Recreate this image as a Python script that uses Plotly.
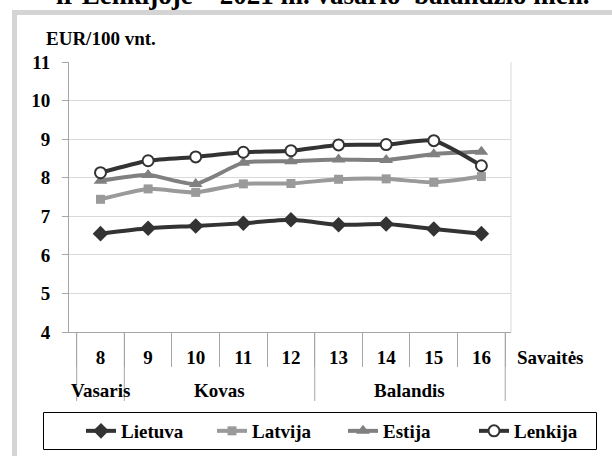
import plotly.graph_objects as go

weeks = ["8", "9", "10", "11", "12", "13", "14", "15", "16"]
months = ["Vasaris", "Kovas", "Kovas", "Kovas", "Kovas",
          "Balandis", "Balandis", "Balandis", "Balandis"]

lietuva = [6.55, 6.69, 6.75, 6.82, 6.91, 6.78, 6.80, 6.67, 6.55]
latvija = [7.44, 7.71, 7.62, 7.84, 7.85, 7.96, 7.97, 7.88, 8.03]
estija = [7.92, 8.07, 7.84, 8.39, 8.43, 8.47, 8.46, 8.61, 8.67]
lenkija = [8.13, 8.44, 8.54, 8.66, 8.70, 8.85, 8.86, 8.96, 8.31]

y_ticks = [4, 5, 6, 7, 8, 9, 10, 11]

W, H = 612, 456
L, R, T, B = 69, 101, 62, 124
PW, PH = W - L - R, H - T - B


def px_x(x):
    return (x - L) / PW


def px_y(y):
    return (H - B - y) / PH


FONT = "Liberation Serif, Times New Roman, serif"
BF = dict(family=FONT, size=19, color="black", weight="bold")
fig = go.Figure()

series = [
    ("Lietuva", lietuva, "#333333", dict(symbol="diamond", size=12, color="#333333")),
    ("Latvija", latvija, "#9a9a9a", dict(symbol="square", size=9, color="#9a9a9a")),
    ("Estija", estija, "#808080", dict(symbol="triangle-up", size=12, color="#808080")),
    ("Lenkija", lenkija, "#333333", dict(symbol="circle", size=11, color="white",
                                         line=dict(color="#333333", width=2))),
]
for name, vals, col, mk in series:
    fig.add_trace(go.Scatter(
        x=weeks, y=vals, name=name, mode="lines+markers",
        line=dict(color=col, width=4, shape="spline", smoothing=0.6),
        marker=mk,
    ))

# month groups derived from the months list
groups = []
for i, m in enumerate(months):
    if groups and groups[-1][0] == m:
        groups[-1][2] = i
    else:
        groups.append([m, i, i])

shapes = [
    dict(type="rect", xref="paper", yref="paper",
         x0=px_x(14.5), x1=px_x(650), y0=px_y(12.5), y1=px_y(500),
         line=dict(color="#d4d4d4", width=5), layer="below"),
    dict(type="rect", xref="paper", yref="paper",
         x0=px_x(43.5), x1=px_x(596.5), y0=px_y(412.5), y1=px_y(449.5),
         line=dict(color="black", width=1), fillcolor="white", layer="below"),
    dict(type="line", xref="paper", yref="paper", x0=1, x1=1, y0=0, y1=1,
         line=dict(color="#d9d9d9", width=1)),
]
annotations = []
bounds = [groups[0][1] - 0.5] + [g[2] + 0.5 for g in groups]
for b in bounds:
    shapes.append(dict(type="line", xref="x", yref="paper", x0=b, x1=b,
                       y0=0, y1=px_y(401), line=dict(color="#a6a6a6", width=1)))
for name, a, b in groups:
    annotations.append(dict(text=name, xref="x", yref="paper", x=(a + b) / 2, y=px_y(390),
                            xanchor="center", yanchor="middle", showarrow=False, font=BF))

annotations += [
    dict(text="EUR/100 vnt.", xref="paper", yref="paper", x=px_x(44), y=px_y(38),
         xanchor="left", yanchor="middle", showarrow=False, font=BF),
    dict(text="Savaitės", xref="paper", yref="paper", x=px_x(515), y=px_y(357),
         xanchor="left", yanchor="middle", showarrow=False, font=BF),
    dict(text="ir Lenkijoje – 2021 m. vasario–balandžio mėn.", xref="paper", yref="paper",
         x=px_x(323), y=px_y(12), xanchor="center", yanchor="bottom", showarrow=False,
         font=dict(family=FONT, size=27, color="black", weight="bold")),
]

fig.update_layout(
    width=W, height=H,
    margin=dict(l=L, r=R, t=T, b=B, autoexpand=False),
    paper_bgcolor="white", plot_bgcolor="white",
    font=BF,
    showlegend=True,
    legend=dict(
        orientation="h", x=px_x(605), y=px_y(431), xanchor="right", yanchor="middle",
        borderwidth=0, bgcolor="rgba(0,0,0,0)",
        font=BF, entrywidth=86, entrywidthmode="pixels",
    ),
    xaxis=dict(
        type="category", showgrid=False, showline=True, linecolor="#a6a6a6",
        ticks="outside", tickson="boundaries", ticklen=34, tickcolor="#a6a6a6",
        tickfont=BF, ticklabelstandoff=8,
    ),
    yaxis=dict(
        range=[4, 11], tickvals=y_ticks, showgrid=True, gridcolor="#d9d9d9",
        showline=True, linecolor="#a6a6a6", ticks="outside", ticklen=6,
        tickcolor="#a6a6a6", zeroline=False, ticklabelstandoff=8,
        tickfont=BF,
    ),
    shapes=shapes,
    annotations=annotations,
)

fig.write_html("out.html", config={"displayModeBar": False},
               post_script="document.body.style.margin='0px';")
